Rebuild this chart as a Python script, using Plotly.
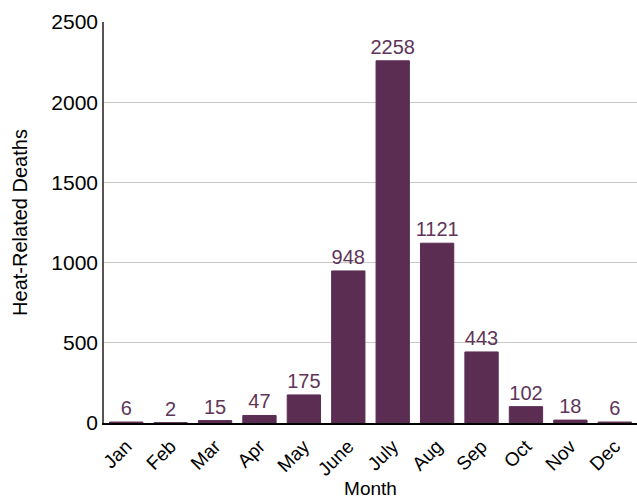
import plotly.graph_objects as go

months = ["Jan", "Feb", "Mar", "Apr", "May", "June", "July", "Aug", "Sep", "Oct", "Nov", "Dec"]
deaths = [6, 2, 15, 47, 175, 948, 2258, 1121, 443, 102, 18, 6]
y_ticks = [0, 500, 1000, 1500, 2000, 2500]

bar_color = "#5b2d52"
font_family = "Liberation Sans, Arial, sans-serif"

fig = go.Figure(
    go.Bar(
        x=months,
        y=deaths,
        marker=dict(color=bar_color, line=dict(color=bar_color, width=1)),
        text=[str(v) for v in deaths],
        textposition="outside",
        textfont=dict(color="#5e3558", size=20, family=font_family),
        constraintext="none",
        cliponaxis=False,
    )
)

fig.update_layout(
    width=637,
    height=499,
    margin=dict(l=104, r=0, t=22, b=76),
    plot_bgcolor="white",
    paper_bgcolor="white",
    bargap=0.25,
    showlegend=False,
    font=dict(family=font_family, color="black", size=18),
)

fig.update_xaxes(
    title=dict(text="Month", font=dict(size=19), standoff=0),
    tickangle=-45,
    tickfont=dict(size=19),
    ticklabelstandoff=3,
    automargin=False,
    showline=True,
    linecolor="black",
    linewidth=1.5,
    ticks="",
    showgrid=False,
)

fig.update_yaxes(
    title=dict(text="Heat-Related Deaths", font=dict(size=20), standoff=18),
    range=[0, 2500],
    tickvals=y_ticks,
    tickfont=dict(size=21),
    automargin=False,
    showline=True,
    linecolor="#555555",
    linewidth=1.5,
    showgrid=True,
    gridcolor="#c8c8c8",
    gridwidth=1,
    zeroline=False,
    ticks="",
)

fig.write_html("out.html")
